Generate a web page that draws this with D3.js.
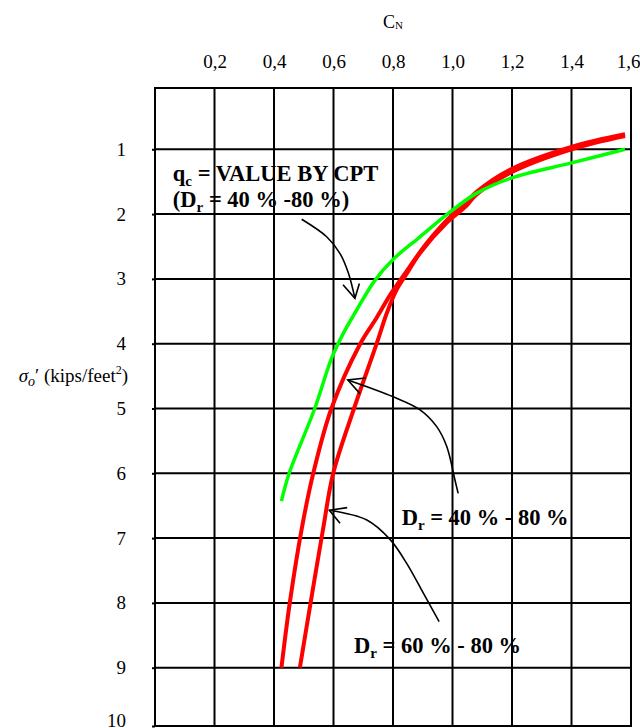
<!DOCTYPE html>
<html>
<head>
<meta charset="utf-8">
<script src="https://cdn.jsdelivr.net/npm/d3@7"></script>
<style>
  body { margin: 0; background: #fff; }
  svg { display: block; }
  text { white-space: pre; }
</style>
</head>
<body>
<script>
const w = 640;
const h = 728;

// tick values: C_N along the top, effective stress down the side
const cnTicks = [0.2, 0.4, 0.6, 0.8, 1.0, 1.2, 1.4, 1.6];
const sigmaTicks = [1, 2, 3, 4, 5, 6, 7, 8, 9, 10];

// curves, [C_N, sigma'] pairs
const cptCurve = [[1.58, 1.0], [1.4, 1.21], [1.2, 1.44], [1.08, 1.68], [0.986, 1.99], [0.891, 2.35],
  [0.8, 2.7], [0.738, 3.03], [0.678, 3.48], [0.633, 3.84], [0.594, 4.22], [0.537, 5.0],
  [0.451, 6.0], [0.425, 6.43]];
const dr4080 = [[1.58, 0.755], [1.4, 0.96], [1.2, 1.3], [1.08, 1.66], [1.04, 1.85], [0.986, 2.07],
  [0.913, 2.45], [0.835, 2.95], [0.79, 3.25], [0.745, 3.6], [0.69, 4.0], [0.593, 5.0], [0.532, 6.0],
  [0.493, 6.86], [0.453, 8.0], [0.425, 9.0]];
const dr6080 = [[1.58, 0.785], [1.4, 1.0], [1.2, 1.35], [1.08, 1.7], [1.045, 1.88], [0.981, 2.13],
  [0.891, 2.6], [0.846, 2.92], [0.812, 3.17], [0.779, 3.53], [0.745, 4.0], [0.669, 5.0], [0.599, 6.0],
  [0.565, 6.86], [0.523, 8.0], [0.487, 9.0]];

// leader arrows: the path ends at the head, then the two arms of the head
const arrowCpt = [[0.493, 2.08], [0.577, 2.35], [0.622, 2.61], [0.65, 2.91], [0.672, 3.30]];
const arrowCptHead = [[0.632, 3.09], [0.672, 3.30], [0.687, 3.07]];
const arrow4080 = [[1.019, 6.31], [1.008, 6.10], [0.981, 5.59], [0.947, 5.28], [0.891, 5.02], [0.801, 4.82], [0.648, 4.56]];
const arrow4080Head = [[0.709, 4.53], [0.648, 4.56], [0.689, 4.77]];
const arrow6080 = [[0.955, 8.29], [0.902, 7.85], [0.846, 7.39], [0.79, 7.02], [0.712, 6.72], [0.586, 6.57]];
const arrow6080Head = [[0.646, 6.53], [0.586, 6.57], [0.622, 6.77]];

const fmt = d3.formatLocale({ decimal: ',', thousands: '.', grouping: [3], currency: ['', ''] }).format('.1f');

const svg = d3.select('body')
  .append('svg')
  .attr('width', w)
  .attr('height', h)
  .attr('font-family', '"Liberation Serif", "Times New Roman", Times, serif');

// scales (the printed grid is not perfectly even, so y is piecewise)
const x = d3.scaleLinear()
  .domain([0, 1.6])
  .range([155, 631]);
const y = d3.scaleLinear()
  .domain([0, 1, 9, 10])
  .range([88, 149.3, 667.7, 726]);

// grid
svg.append('g')
  .selectAll('line')
  .data(cnTicks.slice(0, -1))
  .enter()
  .append('line')
  .attr('x1', (d) => x(d))
  .attr('x2', (d) => x(d))
  .attr('y1', y(0))
  .attr('y2', y(10))
  .attr('stroke', '#000')
  .attr('stroke-width', 2);
svg.append('g')
  .selectAll('line')
  .data(sigmaTicks.slice(0, -1))
  .enter()
  .append('line')
  .attr('x1', x(0))
  .attr('x2', x(1.6))
  .attr('y1', (d) => y(d))
  .attr('y2', (d) => y(d))
  .attr('stroke', '#000')
  .attr('stroke-width', 2);
svg.append('rect')
  .attr('x', x(0))
  .attr('y', y(0))
  .attr('width', x(1.6) - x(0))
  .attr('height', y(10) - y(0))
  .attr('fill', 'none')
  .attr('stroke', '#000')
  .attr('stroke-width', 2);

// top axis labels
const topAxis = svg.append('g')
  .attr('transform', 'translate(0,' + y(0) + ')')
  .call(d3.axisTop(x).tickValues(cnTicks).tickSize(0).tickPadding(20).tickFormat(fmt));
topAxis.select('.domain').remove();
topAxis.attr('font-family', null).attr('font-size', 19);
// last label sits a little inside the page edge
topAxis.selectAll('text').filter((d) => d === 1.6).attr('dx', -3);

// left axis labels, tick stubs poke out of the frame
const leftAxis = svg.append('g')
  .attr('transform', 'translate(' + x(0) + ',0)')
  .call(d3.axisLeft(y).tickValues(sigmaTicks).tickSize(3).tickPadding(26).tickFormat(d3.format('d')));
leftAxis.select('.domain').remove();
leftAxis.attr('font-family', null).attr('font-size', 19);
leftAxis.selectAll('line').attr('stroke-width', 2);
leftAxis.selectAll('text').filter((d) => d === 10).attr('dy', '0.02em');

// axis titles
const cn = svg.append('text')
  .attr('x', (x(0) + x(1.6)) / 2)
  .attr('y', 28)
  .attr('text-anchor', 'middle')
  .attr('font-size', 18);
cn.append('tspan').text('C');
cn.append('tspan').attr('font-size', 11).attr('dy', 1).text('N');

const sig = svg.append('text')
  .attr('x', x(0) - 27)
  .attr('y', y(4.5))
  .attr('dy', '0.32em')
  .attr('text-anchor', 'end')
  .attr('font-size', 19);
sig.append('tspan').attr('font-style', 'italic').text('σ');
sig.append('tspan').attr('font-style', 'italic').attr('font-size', 14).attr('dy', 4).text('o');
sig.append('tspan').attr('dy', -4).text('′ (kips/feet');
sig.append('tspan').attr('font-size', 12).attr('dy', -8).text('2');
sig.append('tspan').attr('dy', 8).text(')');

// curves
const line = d3.line()
  .x((d) => x(d[0]))
  .y((d) => y(d[1]))
  .curve(d3.curveCatmullRom.alpha(0.5));

[dr4080, dr6080].forEach((d) => {
  svg.append('path')
    .datum(d)
    .attr('d', line)
    .attr('fill', 'none')
    .attr('stroke', '#ff0000')
    .attr('stroke-width', 4);
});
svg.append('path')
  .datum(cptCurve)
  .attr('d', line)
  .attr('fill', 'none')
  .attr('stroke', '#00ff00')
  .attr('stroke-width', 3.5);

// leader arrows
const straight = d3.line()
  .x((d) => x(d[0]))
  .y((d) => y(d[1]));
[arrowCpt, arrow4080, arrow6080].forEach((d) => {
  svg.append('path')
    .datum(d)
    .attr('d', line)
    .attr('fill', 'none')
    .attr('stroke', '#000')
    .attr('stroke-width', 1.6);
});
[arrowCptHead, arrow4080Head, arrow6080Head].forEach((d) => {
  svg.append('path')
    .datum(d)
    .attr('d', straight)
    .attr('fill', 'none')
    .attr('stroke', '#000')
    .attr('stroke-width', 1.6);
});

// annotation labels
function label(px, py, parts) {
  const t = svg.append('text')
    .attr('x', px)
    .attr('y', py)
    .attr('font-size', 22.5)
    .attr('font-weight', 'bold');
  parts.forEach((p) => {
    if (p.sub) {
      t.append('tspan').attr('font-size', 15).attr('dy', 5).text(p.sub);
    } else {
      t.append('tspan').attr('dy', p.after ? -5 : 0).text(p.text);
    }
  });
}
label(x(0.06), y(1.485), [{ text: 'q' }, { sub: 'c' }, { text: ' = VALUE BY CPT', after: true }]);
label(x(0.06), y(1.885), [{ text: '(D' }, { sub: 'r' }, { text: ' = 40 % -80 %)', after: true }]);
label(x(0.829), y(6.8), [{ text: 'D' }, { sub: 'r' }, { text: ' = 40 % - 80 %', after: true }]);
label(x(0.669), y(8.78), [{ text: 'D' }, { sub: 'r' }, { text: ' = 60 % - 80 %', after: true }]);
</script>
</body>
</html>
